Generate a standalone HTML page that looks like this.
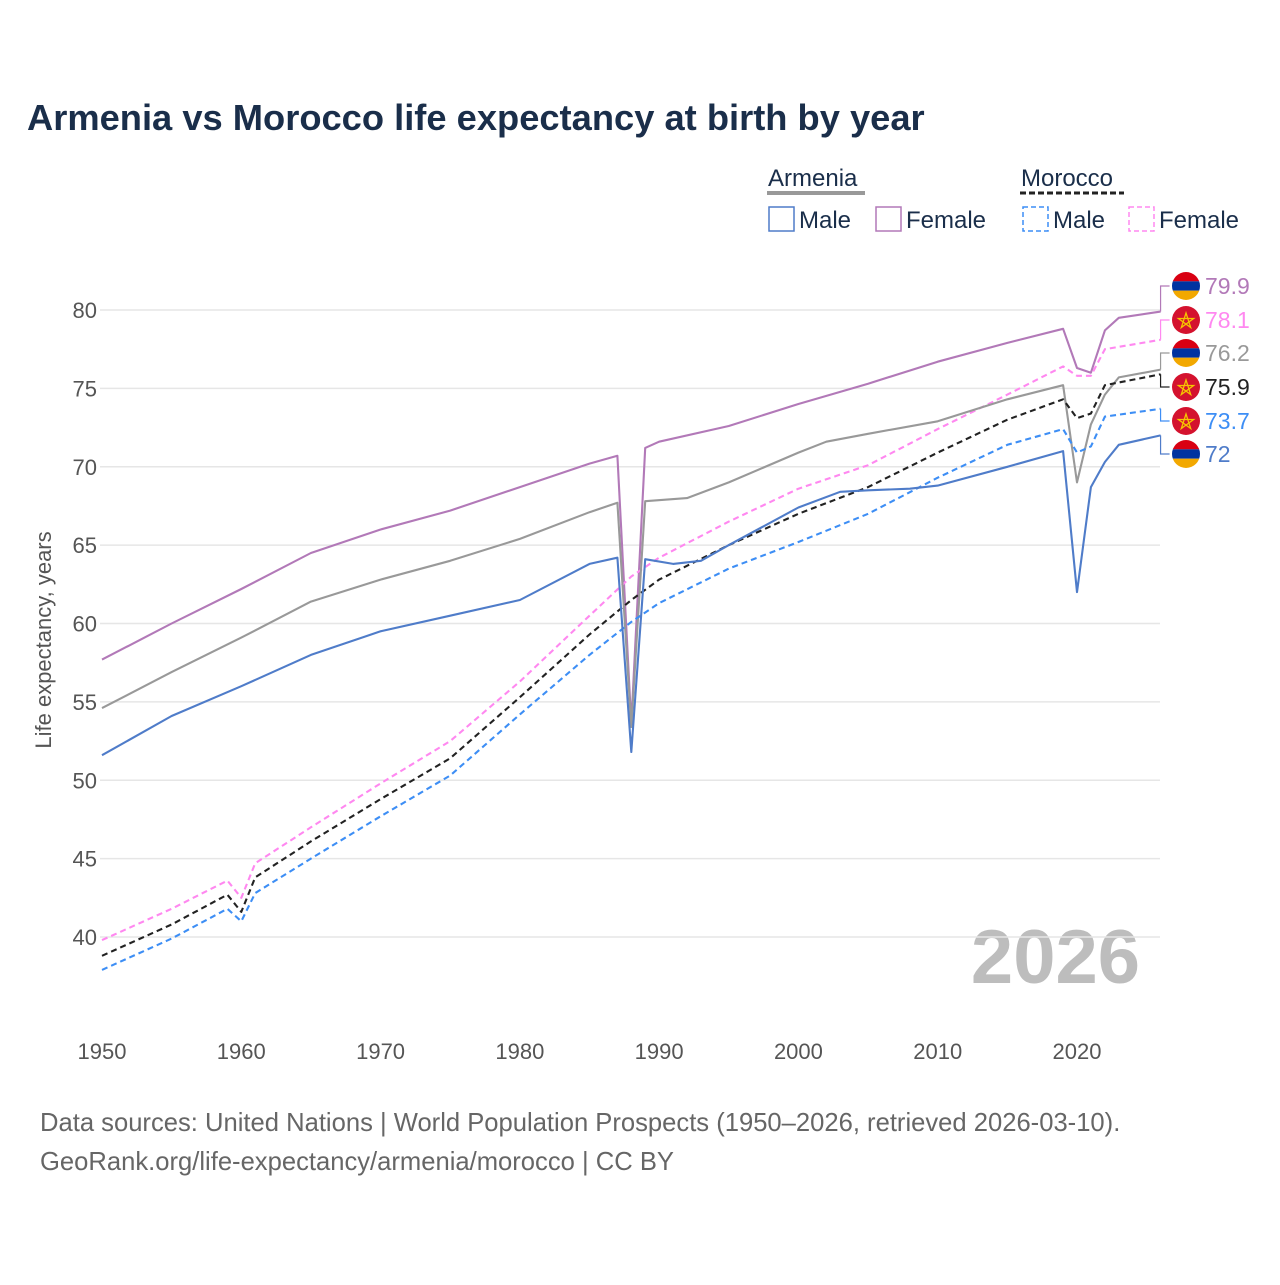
<!DOCTYPE html>
<html><head><meta charset="utf-8"><style>
body{margin:0;background:#fff;font-family:"Liberation Sans",sans-serif;}
svg text{font-family:"Liberation Sans",sans-serif;}
</style></head><body>
<svg id="c" width="1280" height="1280" xmlns="http://www.w3.org/2000/svg">
<text x="27" y="130" font-size="36.3" font-weight="bold" fill="#1a2e4a">Armenia vs Morocco life expectancy at birth by year</text>
<g>
<text x="768" y="186" font-size="24" fill="#1a2e4a">Armenia</text>
<line x1="767" y1="193" x2="865" y2="193" stroke="#999" stroke-width="4"/>
<text x="1021" y="186" font-size="24" fill="#1a2e4a">Morocco</text>
<line x1="1020" y1="193" x2="1124" y2="193" stroke="#222" stroke-width="3" stroke-dasharray="6,3"/>
<rect x="769" y="207" width="25" height="24" fill="none" stroke="#4f7cc9" stroke-width="1.5"/>
<text x="799" y="228" font-size="24" fill="#1a2e4a">Male</text>
<rect x="876" y="207" width="25" height="24" fill="none" stroke="#b279b8" stroke-width="1.5"/>
<text x="906" y="228" font-size="24" fill="#1a2e4a">Female</text>
<rect x="1023" y="207" width="25" height="24" fill="none" stroke="#3d8ef5" stroke-width="1.5" stroke-dasharray="5,3"/>
<text x="1053" y="228" font-size="24" fill="#1a2e4a">Male</text>
<rect x="1129" y="207" width="25" height="24" fill="none" stroke="#ff88f0" stroke-width="1.5" stroke-dasharray="5,3"/>
<text x="1159" y="228" font-size="24" fill="#1a2e4a">Female</text>
</g>
<text transform="translate(51,640) rotate(-90)" text-anchor="middle" font-size="22" fill="#555">Life expectancy, years</text>
<text x="1140" y="983" text-anchor="end" font-size="76" font-weight="bold" fill="#bdbdbd">2026</text>
<g id="grid"></g><g id="lines"></g><g id="labels"></g>
<text x="40" y="1131" font-size="25.6" fill="#666">Data sources: United Nations | World Population Prospects (1950–2026, retrieved 2026-03-10).</text>
<text x="40" y="1170" font-size="25.6" fill="#666">GeoRank.org/life-expectancy/armenia/morocco | CC BY</text>
</svg>
<script>
const yTicks=[40,45,50,55,60,65,70,75,80];
const xTicks=[1950,1960,1970,1980,1990,2000,2010,2020];
const armFemaleYears=[1950,1955,1960,1965,1970,1975,1980,1985,1987,1988,1989,1990,1995,2000,2005,2010,2015,2019,2020,2021,2022,2023,2026];
const armFemale=[57.7,60.0,62.2,64.5,66.0,67.2,68.7,70.2,70.7,53.6,71.2,71.6,72.6,74.0,75.3,76.7,77.9,78.8,76.3,76.0,78.7,79.5,79.9];
const armTotalYears=[1950,1955,1960,1965,1970,1975,1980,1985,1987,1988,1989,1992,1995,2000,2002,2005,2010,2015,2019,2020,2021,2022,2023,2026];
const armTotal=[54.6,56.9,59.1,61.4,62.8,64.0,65.4,67.1,67.7,53.4,67.8,68.0,69.0,70.9,71.6,72.1,72.9,74.3,75.2,69.0,72.7,74.6,75.7,76.2];
const armMaleYears=[1950,1955,1960,1965,1970,1975,1980,1985,1987,1988,1989,1991,1993,1995,2000,2003,2005,2008,2010,2015,2019,2020,2021,2022,2023,2026];
const armMale=[51.6,54.1,56.0,58.0,59.5,60.5,61.5,63.8,64.2,51.8,64.1,63.8,64.0,65.0,67.4,68.4,68.5,68.6,68.8,70.0,71.0,62.0,68.7,70.3,71.4,72.0];
const morYears=[1950,1955,1959,1960,1961,1965,1970,1975,1980,1985,1988,1990,1995,2000,2005,2010,2015,2019,2020,2021,2022,2026];
const morFemale=[39.8,41.8,43.6,42.5,44.7,47.0,49.8,52.5,56.3,60.5,63.0,64.2,66.5,68.6,70.1,72.4,74.6,76.4,75.8,75.8,77.5,78.1];
const morTotal=[38.8,40.8,42.7,41.6,43.8,46.1,48.8,51.4,55.3,59.3,61.5,62.8,65.0,67.0,68.7,70.9,73.0,74.3,73.1,73.4,75.2,75.9];
const morMale=[37.9,39.9,41.8,41.0,42.8,45.0,47.7,50.3,54.2,58.0,60.1,61.3,63.5,65.2,67.0,69.3,71.4,72.4,70.9,71.3,73.2,73.7];
const NS="http://www.w3.org/2000/svg";
const X=y=>102+(y-1950)*(1077-102)/70;
const Y=v=>937-(v-40)*(937-310)/40;
function mk(t,a,p){const e=document.createElementNS(NS,t);for(const k in a)e.setAttribute(k,a[k]);p.appendChild(e);return e;}
const grid=document.getElementById('grid');
yTicks.forEach(t=>{
 const l=mk('line',{x1:100,x2:1160,y1:Y(t),y2:Y(t),stroke:'#e6e6e6','stroke-width':1.5},grid);
 
 
 const tx=mk('text',{x:97,y:Y(t)+8,'text-anchor':'end','font-size':22,fill:'#555'},grid);
 tx.textContent=t;
 
 
});
xTicks.forEach(t=>{
 const tx=mk('text',{x:X(t),y:1059,'text-anchor':'middle','font-size':22,fill:'#555'},grid);
 tx.textContent=t;
 
 
});
const series=[
 {n:'armenia-female',yrs:armFemaleYears,v:armFemale,c:'#b279b8',d:'',ly:286,flag:'am',tc:'#b279b8'},
 {n:'morocco-female',yrs:morYears,v:morFemale,c:'#ff88f0',d:'6,4',ly:320,flag:'ma',tc:'#ff88f0'},
 {n:'armenia-total',yrs:armTotalYears,v:armTotal,c:'#999',d:'',ly:353,flag:'am',tc:'#999'},
 {n:'morocco-total',yrs:morYears,v:morTotal,c:'#222',d:'6,4',ly:387,flag:'ma',tc:'#222'},
 {n:'morocco-male',yrs:morYears,v:morMale,c:'#3d8ef5',d:'6,4',ly:421,flag:'ma',tc:'#3d8ef5'},
 {n:'armenia-male',yrs:armMaleYears,v:armMale,c:'#4f7cc9',d:'',ly:454,flag:'am',tc:'#4f7cc9'}
];
const lg=document.getElementById('lines'),lb=document.getElementById('labels');
series.forEach(s=>{
 const pts=s.yrs.map((y,i)=>X(y).toFixed(1)+','+Y(s.v[i]).toFixed(1)).join(' ');
 const p=mk('polyline',{points:pts,fill:'none',stroke:s.c,'stroke-width':2.1,'stroke-dasharray':s.d,'stroke-linejoin':'round'},lg);
 
 
 const last=s.v[s.v.length-1],ex=X(s.yrs[s.yrs.length-1]),ey=Y(last);
 mk('polyline',{points:`${ex},${ey} ${ex},${s.ly} ${ex+9},${s.ly}`,fill:'none',stroke:s.c,'stroke-width':1.2},lb);
 const g=mk('g',{},lb);
 
 
 const cx=1186,cy=s.ly,r=14;
 if(s.flag==='am'){
  const cid='cp'+s.n;
  const cp=mk('clipPath',{id:cid},g);mk('circle',{cx,cy,r},cp);
  mk('rect',{x:cx-r,y:cy-r,width:2*r,height:2*r/3,fill:'#d90012','clip-path':`url(#${cid})`},g);
  mk('rect',{x:cx-r,y:cy-r/3,width:2*r,height:2*r/3,fill:'#0033a0','clip-path':`url(#${cid})`},g);
  mk('rect',{x:cx-r,y:cy+r/3,width:2*r,height:2*r/3,fill:'#f2a800','clip-path':`url(#${cid})`},g);
 }else{
  mk('circle',{cx,cy,r,fill:'#d4122e'},g);
  const st=[];for(let i=0;i<5;i++){const a=-Math.PI/2+i*4*Math.PI/5;st.push((cx+8*Math.cos(a)).toFixed(1)+','+(cy+1+8*Math.sin(a)).toFixed(1));}
  mk('polygon',{points:st.join(' '),fill:'none',stroke:'#f5c400','stroke-width':1.3},g);
 }
 const t=mk('text',{x:1205,y:s.ly+8,'font-size':23,fill:s.tc},lb);
 t.textContent=String(last);
 
 
});
</script>
</body></html>
